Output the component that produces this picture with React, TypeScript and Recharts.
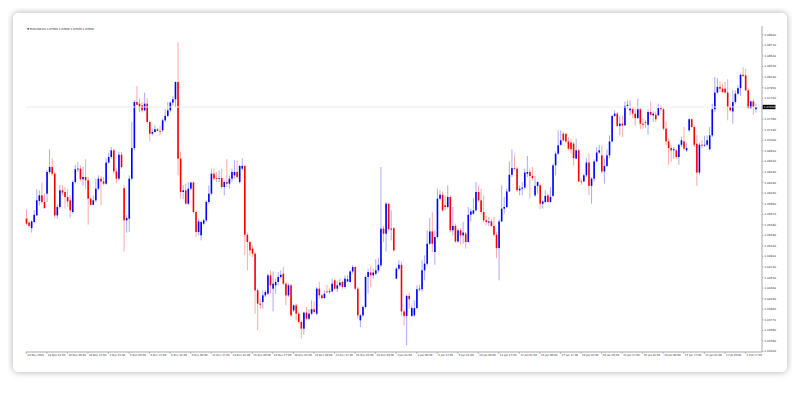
import { ComposedChart, Bar, XAxis, YAxis, ReferenceLine } from "recharts";

// EURUSD H4, one entry per candle
const opens = [
  1.0559, 1.0552, 1.0542, 1.0553, 1.0565, 1.0591, 1.0601, 1.0589, 1.0604, 1.0643,
  1.0652, 1.0640, 1.0565, 1.0580, 1.0610, 1.0607, 1.0598, 1.0592, 1.0571, 1.0625,
  1.0648, 1.0649, 1.0630, 1.0634, 1.0628, 1.0595, 1.0584, 1.0592, 1.0613, 1.0631,
  1.0626, 1.0622, 1.0660, 1.0670, 1.0682, 1.0644, 1.0631, 1.0674, 1.0614, 1.0556,
  1.0559, 1.0631, 1.0686, 1.0769, 1.0766, 1.0763, 1.0754, 1.0766, 1.0733, 1.0712,
  1.0715, 1.0720, 1.0717, 1.0718, 1.0736, 1.0744, 1.0754, 1.0768, 1.0774, 1.0805,
  1.0667, 1.0607, 1.0610, 1.0586, 1.0613, 1.0624, 1.0571, 1.0535, 1.0529, 1.0550,
  1.0556, 1.0589, 1.0604, 1.0640, 1.0632, 1.0631, 1.0632, 1.0616, 1.0625, 1.0622,
  1.0631, 1.0637, 1.0643, 1.0625, 1.0649, 1.0654, 1.0530, 1.0517, 1.0505, 1.0496,
  1.0430, 1.0406, 1.0409, 1.0421, 1.0424,
  1.0457, 1.0433, 1.0439, 1.0445, 1.0454, 1.0460, 1.0442, 1.0421, 1.0439, 1.0394,
  1.0403, 1.0388, 1.0373, 1.0361, 1.0390, 1.0379, 1.0388, 1.0396, 1.0388, 1.0433,
  1.0421, 1.0416, 1.0428, 1.0427, 1.0428, 1.0448, 1.0433, 1.0439, 1.0445, 1.0436,
  1.0446, 1.0445, 1.0464, 1.0472, 1.0433, 1.0376, 1.0385, 1.0400, 1.0454, 1.0462,
  1.0457, 1.0460, 1.0466, 1.0475, 1.0541, 1.0532, 1.0586, 1.0540, 1.0542, 1.0451,
  1.0469, 1.0476, 1.0392, 1.0384, 1.0420, 1.0384, 1.0385, 1.0398, 1.0432, 1.0432,
  1.0466, 1.0478, 1.0514, 1.0536, 1.0499, 1.0526, 1.0595, 1.0602, 1.0583, 1.0580,
  1.0598, 1.0538, 1.0546, 1.0518, 1.0538, 1.0529, 1.0532, 1.0517, 1.0566, 1.0568,
  1.0574, 1.0607, 1.0592, 1.0571, 1.0556, 1.0552, 1.0554, 1.0546, 1.0530, 1.0506,
  1.0554, 1.0577, 1.0580, 1.0608,
  1.0638, 1.0650, 1.0649, 1.0610, 1.0613, 1.0615, 1.0640, 1.0643, 1.0636, 1.0601,
  1.0618, 1.0619, 1.0586, 1.0589, 1.0601, 1.0589, 1.0600, 1.0655, 1.0676, 1.0692,
  1.0712, 1.0712, 1.0698, 1.0696, 1.0694, 1.0667, 1.0682, 1.0626, 1.0626, 1.0637,
  1.0660, 1.0618, 1.0631, 1.0662, 1.0678, 1.0673, 1.0644, 1.0654, 1.0673, 1.0698,
  1.0744, 1.0748, 1.0726, 1.0730, 1.0727, 1.0762, 1.0754, 1.0756, 1.0748, 1.0740,
  1.0756, 1.0730, 1.0733, 1.0728, 1.0751, 1.0745, 1.0746, 1.0745, 1.0758, 1.0756,
  1.0721, 1.0698, 1.0686, 1.0682, 1.0682, 1.0670, 1.0692, 1.0698, 1.0682, 1.0718,
  1.0738, 1.0724, 1.0694, 1.0642, 1.0692, 1.0691, 1.0692, 1.0684, 1.0709, 1.0756,
  1.0786, 1.0796, 1.0793, 1.0793, 1.0786, 1.0760, 1.0752, 1.0769, 1.0784, 1.0794,
  1.0818, 1.0817, 1.0790, 1.0758, 1.0770, 1.0756,
];

const highs = [
  1.0576, 1.0554, 1.0556, 1.0574, 1.0612, 1.0610, 1.0624, 1.0604, 1.0646, 1.0684,
  1.0668, 1.0643, 1.0584, 1.0619, 1.0619, 1.0616, 1.0613, 1.0601, 1.0628, 1.0656,
  1.0661, 1.0655, 1.0652, 1.0666, 1.0634, 1.0598, 1.0601, 1.0631, 1.0637, 1.0636,
  1.0634, 1.0667, 1.0678, 1.0688, 1.0685, 1.0649, 1.0679, 1.0679, 1.0619, 1.0565,
  1.0637, 1.0733, 1.0772, 1.0798, 1.0775, 1.0769, 1.0786, 1.0776, 1.0736, 1.0721,
  1.0727, 1.0722, 1.0726, 1.0739, 1.0756, 1.0769, 1.0770, 1.0780, 1.0806, 1.0877,
  1.0679, 1.0619, 1.0622, 1.0625, 1.0626, 1.0626, 1.0574, 1.0559, 1.0556, 1.0559,
  1.0592, 1.0619, 1.0649, 1.0649, 1.0643, 1.0646, 1.0649, 1.0628, 1.0666, 1.0637,
  1.0649, 1.0664, 1.0664, 1.0655, 1.0668, 1.0655, 1.0534, 1.0520, 1.0511, 1.0499,
  1.0433, 1.0415, 1.0430, 1.0430, 1.0460,
  1.0466, 1.0464, 1.0451, 1.0463, 1.0466, 1.0472, 1.0445, 1.0442, 1.0442, 1.0404,
  1.0406, 1.0391, 1.0376, 1.0391, 1.0400, 1.0396, 1.0412, 1.0410, 1.0436, 1.0445,
  1.0424, 1.0430, 1.0440, 1.0433, 1.0451, 1.0451, 1.0446, 1.0451, 1.0448, 1.0457,
  1.0457, 1.0466, 1.0475, 1.0472, 1.0436, 1.0388, 1.0403, 1.0457, 1.0469, 1.0474,
  1.0469, 1.0486, 1.0488, 1.0652, 1.0546, 1.0589, 1.0586, 1.0574, 1.0544, 1.0472,
  1.0484, 1.0482, 1.0396, 1.0422, 1.0426, 1.0403, 1.0412, 1.0439, 1.0440, 1.0484,
  1.0493, 1.0538, 1.0560, 1.0571, 1.0538, 1.0613, 1.0610, 1.0608, 1.0601, 1.0619,
  1.0601, 1.0580, 1.0550, 1.0541, 1.0542, 1.0553, 1.0535, 1.0580, 1.0577, 1.0596,
  1.0625, 1.0618, 1.0613, 1.0601, 1.0565, 1.0562, 1.0559, 1.0562, 1.0535, 1.0558,
  1.0619, 1.0598, 1.0613, 1.0662,
  1.0684, 1.0673, 1.0652, 1.0619, 1.0625, 1.0649, 1.0672, 1.0649, 1.0652, 1.0636,
  1.0626, 1.0622, 1.0592, 1.0610, 1.0604, 1.0616, 1.0658, 1.0680, 1.0718, 1.0718,
  1.0715, 1.0712, 1.0706, 1.0702, 1.0697, 1.0703, 1.0685, 1.0631, 1.0640, 1.0668,
  1.0676, 1.0634, 1.0666, 1.0688, 1.0692, 1.0691, 1.0667, 1.0684, 1.0709, 1.0745,
  1.0754, 1.0751, 1.0744, 1.0745, 1.0770, 1.0772, 1.0772, 1.0760, 1.0757, 1.0775,
  1.0758, 1.0739, 1.0736, 1.0756, 1.0770, 1.0752, 1.0752, 1.0766, 1.0763, 1.0758,
  1.0734, 1.0703, 1.0691, 1.0688, 1.0685, 1.0694, 1.0706, 1.0724, 1.0696, 1.0740,
  1.0739, 1.0727, 1.0709, 1.0696, 1.0700, 1.0708, 1.0709, 1.0724, 1.0766, 1.0814,
  1.0812, 1.0806, 1.0802, 1.0805, 1.0810, 1.0763, 1.0790, 1.0790, 1.0799, 1.0820,
  1.0832, 1.0829, 1.0794, 1.0772, 1.0774, 1.0766,
];

const lows = [
  1.0547, 1.0544, 1.0534, 1.0551, 1.0564, 1.0583, 1.0586, 1.0577, 1.0589, 1.0640,
  1.0636, 1.0560, 1.0559, 1.0577, 1.0601, 1.0577, 1.0580, 1.0560, 1.0568, 1.0622,
  1.0643, 1.0626, 1.0618, 1.0613, 1.0548, 1.0583, 1.0583, 1.0589, 1.0610, 1.0583,
  1.0619, 1.0620, 1.0658, 1.0667, 1.0640, 1.0623, 1.0628, 1.0649, 1.0500, 1.0534,
  1.0535, 1.0628, 1.0682, 1.0763, 1.0751, 1.0750, 1.0752, 1.0730, 1.0698, 1.0709,
  1.0714, 1.0716, 1.0709, 1.0715, 1.0733, 1.0742, 1.0751, 1.0763, 1.0760, 1.0637,
  1.0595, 1.0594, 1.0584, 1.0583, 1.0610, 1.0568, 1.0526, 1.0529, 1.0520, 1.0547,
  1.0553, 1.0586, 1.0601, 1.0628, 1.0625, 1.0625, 1.0613, 1.0601, 1.0616, 1.0613,
  1.0625, 1.0631, 1.0631, 1.0622, 1.0646, 1.0493, 1.0466, 1.0493, 1.0490, 1.0388,
  1.0358, 1.0397, 1.0397, 1.0418, 1.0421,
  1.0424, 1.0392, 1.0424, 1.0439, 1.0451, 1.0439, 1.0403, 1.0418, 1.0382, 1.0391,
  1.0376, 1.0370, 1.0343, 1.0350, 1.0376, 1.0376, 1.0385, 1.0388, 1.0385, 1.0415,
  1.0414, 1.0415, 1.0426, 1.0424, 1.0427, 1.0430, 1.0427, 1.0436, 1.0433, 1.0433,
  1.0445, 1.0444, 1.0460, 1.0430, 1.0379, 1.0364, 1.0382, 1.0397, 1.0424, 1.0436,
  1.0451, 1.0457, 1.0462, 1.0472, 1.0517, 1.0500, 1.0536, 1.0520, 1.0500, 1.0450,
  1.0466, 1.0385, 1.0367, 1.0331, 1.0397, 1.0382, 1.0382, 1.0397, 1.0428, 1.0428,
  1.0448, 1.0475, 1.0512, 1.0499, 1.0476, 1.0523, 1.0592, 1.0571, 1.0574, 1.0577,
  1.0534, 1.0529, 1.0516, 1.0516, 1.0512, 1.0514, 1.0505, 1.0516, 1.0554, 1.0566,
  1.0572, 1.0589, 1.0566, 1.0553, 1.0547, 1.0546, 1.0544, 1.0526, 1.0488, 1.0448,
  1.0553, 1.0568, 1.0578, 1.0607,
  1.0634, 1.0646, 1.0607, 1.0601, 1.0601, 1.0613, 1.0634, 1.0595, 1.0628, 1.0598,
  1.0604, 1.0576, 1.0577, 1.0586, 1.0588, 1.0588, 1.0598, 1.0637, 1.0674, 1.0690,
  1.0698, 1.0696, 1.0682, 1.0676, 1.0655, 1.0666, 1.0625, 1.0620, 1.0625, 1.0634,
  1.0601, 1.0586, 1.0626, 1.0661, 1.0676, 1.0640, 1.0622, 1.0652, 1.0668, 1.0696,
  1.0742, 1.0724, 1.0709, 1.0706, 1.0726, 1.0757, 1.0745, 1.0740, 1.0726, 1.0739,
  1.0720, 1.0720, 1.0722, 1.0710, 1.0744, 1.0733, 1.0733, 1.0744, 1.0752, 1.0718,
  1.0691, 1.0656, 1.0661, 1.0667, 1.0667, 1.0656, 1.0688, 1.0682, 1.0679, 1.0715,
  1.0722, 1.0688, 1.0618, 1.0638, 1.0686, 1.0688, 1.0690, 1.0682, 1.0706, 1.0751,
  1.0784, 1.0787, 1.0786, 1.0784, 1.0736, 1.0752, 1.0730, 1.0766, 1.0782, 1.0780,
  1.0814, 1.0788, 1.0756, 1.0756, 1.0746, 1.0750,
];

const closes = [
  1.0550, 1.0546, 1.0554, 1.0566, 1.0592, 1.0601, 1.0589, 1.0578, 1.0643, 1.0652,
  1.0640, 1.0565, 1.0580, 1.0610, 1.0606, 1.0598, 1.0590, 1.0574, 1.0625, 1.0648,
  1.0649, 1.0630, 1.0634, 1.0628, 1.0595, 1.0584, 1.0592, 1.0613, 1.0631, 1.0626,
  1.0622, 1.0660, 1.0670, 1.0682, 1.0644, 1.0631, 1.0674, 1.0652, 1.0556, 1.0560,
  1.0631, 1.0686, 1.0769, 1.0764, 1.0760, 1.0754, 1.0766, 1.0733, 1.0712, 1.0715,
  1.0720, 1.0717, 1.0716, 1.0736, 1.0744, 1.0754, 1.0768, 1.0774, 1.0805, 1.0667,
  1.0607, 1.0610, 1.0586, 1.0613, 1.0624, 1.0571, 1.0535, 1.0554, 1.0553, 1.0556,
  1.0589, 1.0604, 1.0640, 1.0631, 1.0631, 1.0632, 1.0616, 1.0625, 1.0622, 1.0631,
  1.0643, 1.0643, 1.0634, 1.0654, 1.0654, 1.0530, 1.0517, 1.0502, 1.0496, 1.0430,
  1.0406, 1.0404, 1.0421, 1.0427, 1.0457,
  1.0439, 1.0442, 1.0445, 1.0454, 1.0458, 1.0442, 1.0421, 1.0439, 1.0385, 1.0403,
  1.0388, 1.0373, 1.0361, 1.0390, 1.0379, 1.0388, 1.0396, 1.0391, 1.0433, 1.0421,
  1.0416, 1.0424, 1.0427, 1.0428, 1.0442, 1.0433, 1.0439, 1.0444, 1.0436, 1.0451,
  1.0450, 1.0464, 1.0472, 1.0433, 1.0385, 1.0385, 1.0400, 1.0454, 1.0463, 1.0457,
  1.0462, 1.0466, 1.0476, 1.0541, 1.0532, 1.0586, 1.0540, 1.0541, 1.0502, 1.0469,
  1.0476, 1.0392, 1.0384, 1.0420, 1.0414, 1.0398, 1.0398, 1.0432, 1.0433, 1.0466,
  1.0478, 1.0514, 1.0536, 1.0514, 1.0526, 1.0595, 1.0602, 1.0574, 1.0580, 1.0598,
  1.0538, 1.0546, 1.0518, 1.0538, 1.0529, 1.0534, 1.0517, 1.0566, 1.0572, 1.0574,
  1.0607, 1.0592, 1.0571, 1.0556, 1.0553, 1.0554, 1.0546, 1.0530, 1.0506, 1.0554,
  1.0577, 1.0580, 1.0608, 1.0638,
  1.0650, 1.0649, 1.0610, 1.0613, 1.0615, 1.0642, 1.0643, 1.0636, 1.0632, 1.0618,
  1.0625, 1.0586, 1.0590, 1.0600, 1.0589, 1.0598, 1.0655, 1.0676, 1.0691, 1.0700,
  1.0700, 1.0698, 1.0685, 1.0684, 1.0668, 1.0682, 1.0626, 1.0625, 1.0637, 1.0660,
  1.0618, 1.0631, 1.0662, 1.0678, 1.0682, 1.0644, 1.0654, 1.0673, 1.0698, 1.0744,
  1.0748, 1.0726, 1.0730, 1.0727, 1.0762, 1.0764, 1.0757, 1.0748, 1.0740, 1.0756,
  1.0730, 1.0728, 1.0732, 1.0751, 1.0746, 1.0748, 1.0738, 1.0758, 1.0756, 1.0721,
  1.0698, 1.0686, 1.0682, 1.0684, 1.0670, 1.0692, 1.0700, 1.0685, 1.0686, 1.0738,
  1.0724, 1.0692, 1.0642, 1.0692, 1.0691, 1.0692, 1.0700, 1.0709, 1.0756, 1.0786,
  1.0796, 1.0793, 1.0787, 1.0786, 1.0760, 1.0754, 1.0769, 1.0784, 1.0794, 1.0818,
  1.0816, 1.0790, 1.0758, 1.0770, 1.0760, 1.0760,
];

// one date label every 8 candles
const dateLabels = [
  "24 Nov 2016", "28 Nov 01:00", "29 Nov 09:00", "30 Nov 17:00", "2 Dec 01:00", "5 Dec 09:00",
  "6 Dec 17:00", "8 Dec 01:00", "9 Dec 09:00", "12 Dec 17:00", "14 Dec 01:00", "15 Dec 09:00",
  "16 Dec 17:00", "20 Dec 01:00", "21 Dec 09:00", "22 Dec 17:00", "26 Dec 01:00", "28 Dec 09:00",
  "3 Jan 01:00", "4 Jan 09:00", "5 Jan 17:00", "9 Jan 01:00", "10 Jan 09:00", "11 Jan 17:00",
  "13 Jan 01:00", "16 Jan 09:00", "17 Jan 17:00", "19 Jan 01:00", "20 Jan 09:00", "23 Jan 17:00",
  "25 Jan 01:00", "26 Jan 09:00", "27 Jan 17:00", "31 Jan 01:00", "1 Feb 09:00", "2 Feb 17:00",
];

// 1.0757 is hidden behind the price box
const priceTicks = [
  1.089, 1.0871, 1.0852, 1.0833, 1.0814, 1.0795, 1.0776, 1.0738, 1.0719, 1.07,
  1.0681, 1.0662, 1.0643, 1.0624, 1.0605, 1.0586, 1.0567, 1.0548, 1.0529, 1.051,
  1.0491, 1.0472, 1.0453, 1.0434, 1.0415, 1.0396, 1.0377, 1.0358, 1.0339, 1.032,
];

const symbol = "EURUSD,H4";
const yDomain = [1.0319, 1.09058];

const data = opens.map((o, i) => ({ i, o, h: highs[i], l: lows[i], c: closes[i] }));
const labelBars = dateLabels.map((_, k) => k * 8);
const last = data[data.length - 1];

const FONT = "'DejaVu Sans', Arial, sans-serif";
const FRAME = "#aaaaaa";

function Candle(props: any) {
  const { x, y, width, height, payload } = props;
  if (!payload || y == null || height == null) return null;
  const top = Math.min(y, y + height);
  const span = Math.abs(height);
  const { o, h, l, c } = payload;
  const toY = (v: number) => (h === l ? top : top + ((h - v) / (h - l)) * span);
  const cx = x + width / 2;
  const up = c >= o;
  const yo = toY(o);
  const yc = toY(c);
  const bodyH = Math.max(Math.abs(yo - yc), 0.8);
  return (
    <g>
      <line x1={cx} x2={cx} y1={top} y2={top + span} stroke={up ? "#aaaaff" : "#ffaaaa"} strokeWidth={1} />
      <rect x={cx - 0.8} y={Math.min(yo, yc)} width={1.6} height={bodyH} fill={up ? "#0000ff" : "#ff0000"} />
    </g>
  );
}

function DateTick({ x, y, payload }: any) {
  return (
    <g>
      <line x1={x} x2={x} y1={y} y2={y + 2} stroke="#888" strokeWidth={0.5} />
      <text x={x + 1} y={y + 4.2} fontSize={2.6} fontFamily={FONT} fill="#333">
        {dateLabels[payload.value / 8]}
      </text>
    </g>
  );
}

function PriceTick({ x, y, payload }: any) {
  return (
    <g>
      <line x1={x} x2={x + 1.6} y1={y} y2={y} stroke="#888" strokeWidth={0.5} />
      <text x={x + 2.2} y={y + 1} fontSize={2.9} fontFamily={FONT} fill="#333">
        {payload.value.toFixed(5)}
      </text>
    </g>
  );
}

function PriceBox({ viewBox }: any) {
  if (!viewBox) return null;
  const bx = viewBox.x + viewBox.width + 0.5;
  return (
    <g>
      <rect x={bx} y={viewBox.y - 2.2} width={13} height={4.4} fill="#000" />
      <text x={bx + 1.2} y={viewBox.y + 1} fontSize={2.9} fontFamily={FONT} fill="#fff">
        {last.c.toFixed(5)}
      </text>
    </g>
  );
}

export default function App() {
  return (
    <div style={{ position: "relative", width: 784, height: 384 }}>
      <div
        style={{
          position: "absolute",
          left: 5,
          top: 5,
          width: 774,
          height: 359,
          background: "#fff",
          borderRadius: 5,
          boxShadow: "0 0 7px rgba(0,0,0,0.32)",
        }}
      />
      <div
        style={{
          position: "absolute",
          left: 19,
          top: 19,
          fontSize: 2.7,
          lineHeight: "4px",
          fontFamily: FONT,
          color: "#222",
          whiteSpace: "nowrap",
          zIndex: 2,
        }}
      >
        ▼ {symbol} {last.o.toFixed(5)} {last.h.toFixed(5)} {last.l.toFixed(5)} {last.c.toFixed(5)}
      </div>
      <div style={{ position: "absolute", left: 0, top: 0 }}>
        <ComposedChart
          width={784}
          height={384}
          data={data}
          margin={{ top: 18, right: 2, bottom: 30, left: 18 }}
          barCategoryGap={0}
        >
          <XAxis
            dataKey="i"
            type="category"
            ticks={labelBars}
            interval={0}
            tick={<DateTick />}
            tickLine={false}
            tickSize={0}
            tickMargin={0}
            height={10}
            padding={{ left: -1, right: 5 }}
            axisLine={{ stroke: FRAME }}
          />
          <XAxis
            xAxisId="top"
            orientation="top"
            dataKey="i"
            type="category"
            tick={false}
            tickLine={false}
            height={0}
            padding={{ left: -1, right: 5 }}
            axisLine={{ stroke: FRAME }}
          />
          <YAxis
            orientation="right"
            type="number"
            domain={yDomain}
            allowDataOverflow
            ticks={priceTicks}
            interval={0}
            tick={<PriceTick />}
            tickLine={false}
            tickSize={0}
            tickMargin={0}
            width={28}
            axisLine={{ stroke: FRAME }}
          />
          <YAxis
            yAxisId="left"
            orientation="left"
            type="number"
            domain={yDomain}
            tick={false}
            tickLine={false}
            width={0}
            axisLine={{ stroke: FRAME }}
          />
          <ReferenceLine y={last.c} stroke="#ececec" strokeWidth={1} label={<PriceBox />} />
          <Bar
            dataKey={(d: any) => [d.l, d.h]}
            shape={(p: any) => <Candle {...p} />}
            isAnimationActive={false}
          />
        </ComposedChart>
      </div>
    </div>
  );
}
